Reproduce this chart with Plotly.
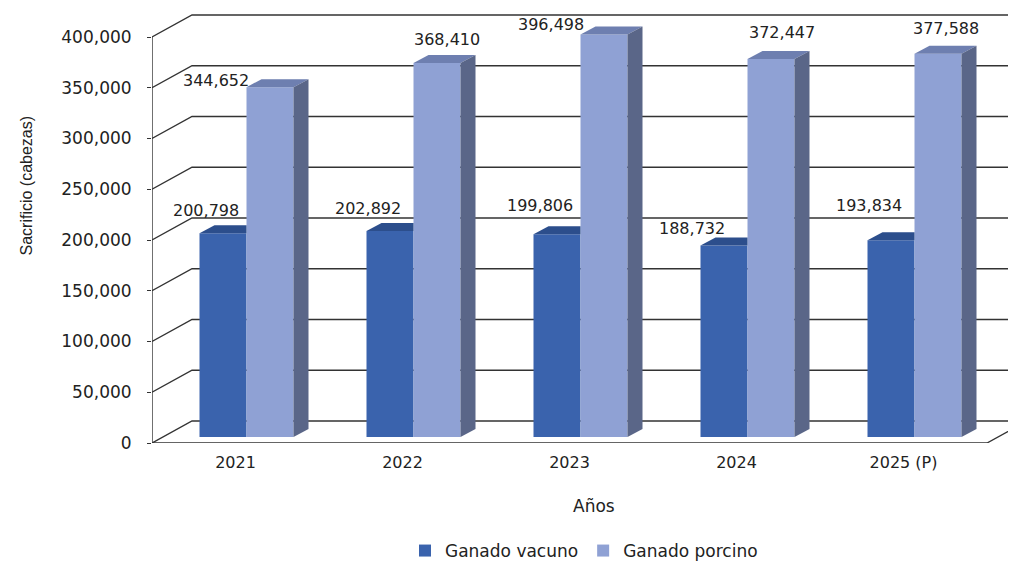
import plotly.graph_objects as go

# ---------------- data ----------------
categories = ["2021", "2022", "2023", "2024", "2025 (P)"]
vacuno = [200798, 202892, 199806, 188732, 193834]
porcino = [344652, 368410, 396498, 372447, 377588]
series_names = ["Ganado vacuno", "Ganado porcino"]
y_ticks = [0, 50000, 100000, 150000, 200000, 250000, 300000, 350000, 400000]
x_title = "Años"
y_title = "Sacrificio (cabezas)"

# ---------------- styles / geometry ----------------
PAGE_PAD = 8                      # default body margin of the html page
FIG_W, FIG_H = 1016 - PAGE_PAD, 562 - PAGE_PAD
M_L = 152 - PAGE_PAD              # front axis at window x = 152
PLOT_BOTTOM = 443 - PAGE_PAD      # front floor edge at window y = 443
M_B = FIG_H - PLOT_BOTTOM
PLOT_W = FIG_W - M_L
PLOT_H = PLOT_BOTTOM
PX_PER_CAT = 167.0
PX_PER_K = 1.015


def px_x(p):
    return p / PX_PER_CAT


def px_y(p):
    return p / PX_PER_K * 1000.0


def paper_x(win_x):
    return (win_x - PAGE_PAD - M_L) / PLOT_W


def paper_y(win_y):
    return (PLOT_BOTTOM - (win_y - PAGE_PAD)) / PLOT_H


X0 = -0.5
x_range = [X0, X0 + PLOT_W / PX_PER_CAT]
y_range = [0, px_y(PLOT_H)]

WALL_DX, WALL_DY = px_x(40), px_y(22)     # back wall offset (oblique projection)
BAR_DX, BAR_DY = px_x(11), px_y(6)        # bar front plane offset
DEPTH_DX, DEPTH_DY = px_x(15), px_y(8)    # bar depth
BAR_W = px_x(47)

C_VAC, C_VAC_TOP = "#3A63AD", "#2C4E8C"
C_POR, C_POR_TOP, C_POR_SIDE = "#8FA1D4", "#6E7FB0", "#5A6688"
GRID = "#333333"
TXT = "#222222"
FONT = "DejaVu Sans"

# label offsets in pixels (vacuno, porcino)
lab_dx_vac = [-17, -22, -17, -32, -22]
lab_dy_vac = [23, 23, 29, 17, 35]
lab_dx_por = [-54, 10, -53, 11, 8]
lab_dy_por = [7, 24, 10, 26, 25]

idx = list(range(len(categories)))
xc = [i + BAR_DX for i in idx]

fig = go.Figure()

# front faces
fig.add_bar(x=xc, y=vacuno, base=BAR_DY, width=BAR_W, offset=-BAR_W,
            marker=dict(color=C_VAC, line=dict(width=0)), name=series_names[0],
            customdata=categories, hovertemplate="%{customdata}: %{y:,}<extra>" + series_names[0] + "</extra>")
fig.add_bar(x=xc, y=porcino, base=BAR_DY, width=BAR_W, offset=0,
            marker=dict(color=C_POR, line=dict(width=0)), name=series_names[1],
            customdata=categories, hovertemplate="%{customdata}: %{y:,}<extra>" + series_names[1] + "</extra>")


def poly_trace(polys, color):
    xs, ys = [], []
    for p in polys:
        for (a, b) in p:
            xs.append(a)
            ys.append(b)
        xs.append(p[0][0])
        ys.append(p[0][1])
        xs.append(None)
        ys.append(None)
    return go.Scatter(x=xs, y=ys, mode="lines", fill="toself", fillcolor=color,
                      line=dict(width=0, color=color), hoverinfo="skip", showlegend=False)


vac_tops, por_tops, por_sides = [], [], []
for i, v, p in zip(idx, vacuno, porcino):
    xl = xc[i] - BAR_W
    xr = xc[i]
    t = BAR_DY + v
    vac_tops.append([(xl, t), (xr, t), (xr, t + DEPTH_DY), (xl + DEPTH_DX, t + DEPTH_DY)])
    xl2 = xc[i]
    xr2 = xc[i] + BAR_W
    t2 = BAR_DY + p
    por_tops.append([(xl2, t2), (xr2, t2), (xr2 + DEPTH_DX, t2 + DEPTH_DY), (xl2 + DEPTH_DX, t2 + DEPTH_DY)])
    por_sides.append([(xr2, BAR_DY), (xr2, t2), (xr2 + DEPTH_DX, t2 + DEPTH_DY), (xr2 + DEPTH_DX, BAR_DY + DEPTH_DY)])

fig.add_trace(poly_trace(vac_tops, C_VAC_TOP))
fig.add_trace(poly_trace(por_tops, C_POR_TOP))
fig.add_trace(poly_trace(por_sides, C_POR_SIDE))

# front axis line and floor front edge
x_end = len(categories) - 0.5
fig.add_trace(go.Scatter(
    x=[X0, X0, None, X0, x_end, x_end + WALL_DX],
    y=[0, y_ticks[-1], None, 0, 0, WALL_DY],
    mode="lines", line=dict(color=GRID, width=1.4), cliponaxis=False,
    hoverinfo="skip", showlegend=False))

# back-wall gridlines (behind bars)
shapes = []
for v in y_ticks:
    path = "M {a},{b} L {c},{d} L {e},{d}".format(
        a=X0, b=v, c=X0 + WALL_DX, d=v + WALL_DY, e=x_range[1] + 1)
    shapes.append(dict(type="path", path=path, xref="x", yref="y", layer="below",
                       line=dict(color=GRID, width=1.4)))

# data labels
annotations = []
for i, v in enumerate(vacuno):
    annotations.append(dict(x=xc[i] - BAR_W / 2, y=BAR_DY + v, text=f"{v:,}", showarrow=False,
                            xshift=lab_dx_vac[i], yshift=lab_dy_vac[i],
                            font=dict(family=FONT, size=16, color=TXT)))
for i, v in enumerate(porcino):
    annotations.append(dict(x=xc[i] + BAR_W / 2, y=BAR_DY + v, text=f"{v:,}", showarrow=False,
                            xshift=lab_dx_por[i], yshift=lab_dy_por[i],
                            font=dict(family=FONT, size=16, color=TXT)))

annotations.append(dict(xref="paper", yref="paper", x=paper_x(594), y=paper_y(518),
                        text=x_title, showarrow=False, font=dict(family=FONT, size=17, color=TXT)))
annotations.append(dict(xref="paper", yref="paper", x=paper_x(16), y=paper_y(186),
                        text=y_title, textangle=-90, showarrow=False,
                        font=dict(family="Liberation Sans", size=16, color=TXT)))

fig.update_layout(
    width=FIG_W, height=FIG_H,
    margin=dict(l=M_L, r=0, t=0, b=M_B, autoexpand=False),
    paper_bgcolor="white", plot_bgcolor="white",
    barmode="overlay",
    shapes=shapes,
    annotations=annotations,
    showlegend=True,
    legend=dict(orientation="h", x=paper_x(584), xanchor="center",
                y=paper_y(551), yanchor="middle",
                font=dict(family=FONT, size=17, color=TXT), bgcolor="rgba(0,0,0,0)"),
    xaxis=dict(range=x_range, tickvals=idx, ticktext=categories, showgrid=False, zeroline=False,
               showline=False, ticks="", tickfont=dict(family=FONT, size=16, color=TXT),
               ticklabelstandoff=8, fixedrange=True, automargin=False),
    yaxis=dict(range=y_range, tickvals=y_ticks, tickformat=",", showgrid=False, zeroline=False,
               showline=False, ticks="outside", ticklen=4, tickcolor=GRID, tickwidth=1.4,
               tickfont=dict(family=FONT, size=17, color=TXT), ticklabelstandoff=12,
               fixedrange=True, automargin=False),
)

fig.write_html("out.html")
